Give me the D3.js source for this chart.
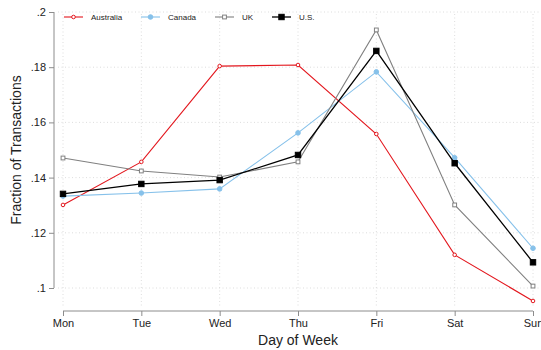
<!DOCTYPE html>
<html><head><meta charset="utf-8">
<script src="https://cdn.jsdelivr.net/npm/d3@7"></script>
<style>body{margin:0;background:#fff}svg{display:block;font-family:"Liberation Sans",Arial,sans-serif}</style>
</head><body><svg id="c" width="541" height="350"></svg>
<script>
const days = ["Mon","Tue","Wed","Thu","Fri","Sat","Sun"];
const australia = [0.1301,0.1457,0.1804,0.1808,0.1558,0.1120,0.0953];
const canada    = [0.1333,0.1344,0.1359,0.1562,0.1783,0.1472,0.1144];
const uk        = [0.1471,0.1424,0.1402,0.1457,0.1935,0.1301,0.1007];
const us        = [0.1341,0.1377,0.1391,0.1482,0.1859,0.1452,0.1093];
const yTicks = [0.1,0.12,0.14,0.16,0.18,0.2];
const yTickLabels = [".1",".12",".14",".16",".18",".2"];

const series = [
  {name:"Australia", values:australia, color:"#e3171e", marker:"circle", fill:"#fff", size:1.8, width:1.1},
  {name:"Canada", values:canada, color:"#86c1ea", marker:"circle", fill:"#86c1ea", size:2.3, width:1.1},
  {name:"UK", values:uk, color:"#808080", marker:"square", fill:"#fff", size:1.9, width:1.1},
  {name:"U.S.", values:us, color:"#000000", marker:"square", fill:"#000", size:2.7, width:1.3}
];

const svg = d3.select("#c");
const x = d3.scalePoint().domain(days).range([63,533]);
const y = d3.scaleLinear().domain([0.1,0.2]).range([288,12]);

// gridlines
const grid = svg.append("g").attr("stroke","#d4d4d4").attr("stroke-width",0.8).attr("stroke-dasharray","1,2.5");
grid.selectAll(".gh").data(yTicks).join("line")
  .attr("x1",58).attr("x2",541).attr("y1",d=>y(d)).attr("y2",d=>y(d));
grid.selectAll(".gv").data(days).join("line")
  .attr("x1",d=>x(d)).attr("x2",d=>x(d)).attr("y1",14).attr("y2",306);

// y axis
const yAxis = d3.axisLeft(y).tickValues(yTicks).tickFormat((d,i)=>yTickLabels[i]).tickSize(5).tickPadding(3);
const ya = svg.append("g").attr("transform","translate(54,0)").call(yAxis);
ya.select(".domain").attr("d","M0,12V288").attr("stroke","#8c8c8c");
ya.selectAll(".tick line").attr("stroke","#8c8c8c");
ya.selectAll("text").attr("font-size",11).attr("fill","#222").attr("font-family","Liberation Sans, Arial, sans-serif");

// x axis
const xAxis = d3.axisBottom(x).tickSize(5).tickPadding(3);
const xa = svg.append("g").attr("transform","translate(0,311)").call(xAxis);
xa.select(".domain").attr("d","M63,0H533").attr("stroke","#8c8c8c");
xa.selectAll(".tick line").attr("stroke","#8c8c8c");
xa.selectAll("text").attr("font-size",11).attr("fill","#222").attr("font-family","Liberation Sans, Arial, sans-serif");

// axis titles
svg.append("text").attr("x",298).attr("y",345).attr("text-anchor","middle")
  .attr("font-size",14).attr("fill","#222").text("Day of Week");
svg.append("text").attr("transform","translate(21,150) rotate(-90)").attr("text-anchor","middle")
  .attr("font-size",14).attr("fill","#222").text("Fraction of Transactions");

// lines and markers
const line = d3.line().x((d,i)=>x(days[i])).y(d=>y(d));
function drawMarker(g, s, cx, cy){
  if (s.marker==="circle"){
    g.append("circle").attr("cx",cx).attr("cy",cy).attr("r",s.size)
      .attr("fill",s.fill).attr("stroke",s.color).attr("stroke-width",1);
  } else {
    const h = s.size;
    g.append("rect").attr("x",cx-h).attr("y",cy-h).attr("width",2*h).attr("height",2*h)
      .attr("fill",s.fill).attr("stroke",s.color).attr("stroke-width",1);
  }
}
series.forEach(s=>{
  const g = svg.append("g");
  g.append("path").datum(s.values).attr("d",line).attr("fill","none")
    .attr("stroke",s.color).attr("stroke-width",s.width);
  s.values.forEach((v,i)=>drawMarker(g,s,x(days[i]),y(v)));
});

// legend
const legX = [64,141,215,272];
series.forEach((s,i)=>{
  const g = svg.append("g");
  g.append("line").attr("x1",legX[i]).attr("x2",legX[i]+19).attr("y1",17).attr("y2",17)
    .attr("stroke",s.color).attr("stroke-width",s.width);
  drawMarker(g,s,legX[i]+9.5,17);
  g.append("text").attr("x",legX[i]+27).attr("y",20).attr("font-size",8).attr("fill","#222").text(s.name);
});
</script></body></html>
